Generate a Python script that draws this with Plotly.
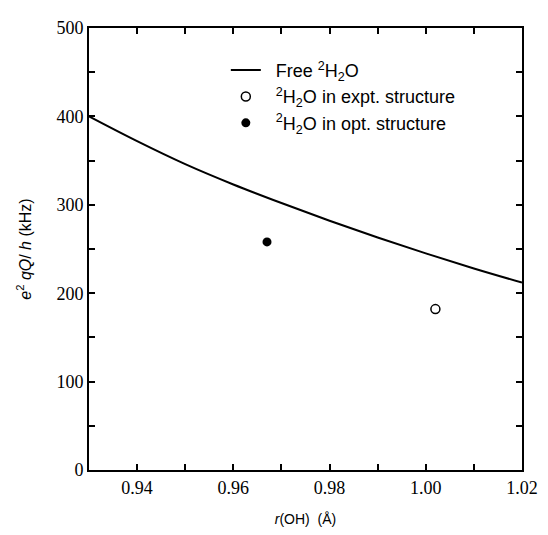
import plotly.graph_objects as go

r_free = [0.93, 0.94, 0.95, 0.96, 0.97, 0.98, 0.99, 1.00, 1.01, 1.02]
efg_free = [400, 372, 346, 323, 302, 282, 263, 245, 228, 212]

r_expt = [1.002]
efg_expt = [182]

r_opt = [0.967]
efg_opt = [258]

sp = "\u00a0\u00a0"
fig = go.Figure()
fig.add_trace(go.Scatter(x=r_free, y=efg_free, mode="lines", line=dict(color="black", width=2, shape="spline"),
                         name=sp + "Free <sup>2</sup>H<sub>2</sub>O", legendgroup="a"))
fig.add_trace(go.Scatter(x=r_expt, y=efg_expt, mode="markers",
                         marker=dict(symbol="circle-open", size=9, color="black", line=dict(width=1.5)),
                         name=sp + "<sup>2</sup>H<sub>2</sub>O in expt. structure", legendgroup="b"))
fig.add_trace(go.Scatter(x=r_opt, y=efg_opt, mode="markers",
                         marker=dict(symbol="circle", size=9, color="black"),
                         name=sp + "<sup>2</sup>H<sub>2</sub>O in opt. structure", legendgroup="c"))

axis_common = dict(showline=True, linecolor="black", linewidth=2, mirror="ticks", ticks="inside",
                   ticklen=6, tickwidth=1.5, tickcolor="black", showgrid=False, zeroline=False,
                   tickfont=dict(family="Liberation Serif", size=18, color="black"))

fig.update_xaxes(range=[0.93, 1.02], tickvals=[0.94, 0.96, 0.98, 1.00, 1.02],
                 ticktext=["0.94", "0.96", "0.98", "1.00", "1.02"],
                 minor=dict(tickvals=[0.93, 0.95, 0.97, 0.99, 1.01], ticks="inside", ticklen=6, tickcolor="black", tickwidth=1.5),
                 title=dict(text="<i>r</i>(OH)  (Å)", font=dict(family="Liberation Sans", size=14, color="black"), standoff=18),
                 **axis_common)
fig.update_yaxes(range=[0, 500], tickvals=[0, 100, 200, 300, 400, 500],
                 minor=dict(tickvals=[50, 150, 250, 350, 450], ticks="inside", ticklen=6, tickcolor="black", tickwidth=1.5),
                 title=dict(text="<i>e</i><sup>2</sup> <i>qQ</i>/ <i>h</i> (kHz)", font=dict(family="Liberation Sans", size=16, color="black"), standoff=21),
                 **axis_common)

fig.update_layout(width=540, height=527, margin=dict(l=81, r=16, t=10, b=57),
                  plot_bgcolor="white", paper_bgcolor="white",
                  legend=dict(x=0.316, y=0.946, xanchor="left", yanchor="top", bgcolor="rgba(0,0,0,0)",
                              font=dict(family="Liberation Sans", size=18, color="black"), tracegroupgap=0),
                  showlegend=True)

fig.write_html("out.html")
